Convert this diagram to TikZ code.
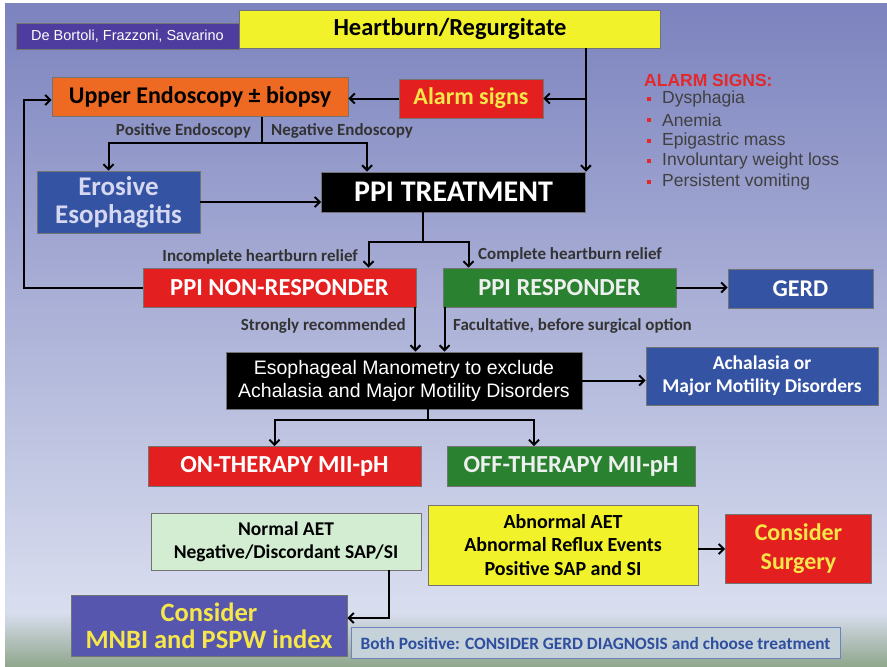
\documentclass[tikz,border=0pt]{standalone}
\usepackage{fontspec}
\setmainfont{Carlito}
\newfontfamily\arial{Liberation Sans}
\usetikzlibrary{arrows.meta}
\definecolor{bgtop}{HTML}{7C83BE}
\definecolor{bgmid}{HTML}{B0B7DB}
\definecolor{bglow}{HTML}{D9DEEF}
\definecolor{bggreen}{HTML}{8FA68C}
\definecolor{boxyellow}{HTML}{F2F22A}
\definecolor{boxorange}{HTML}{EE6A23}
\definecolor{boxred}{HTML}{E3201F}
\definecolor{boxgreen}{HTML}{2A8231}
\definecolor{boxblue}{HTML}{3553A3}
\definecolor{boxpurple}{HTML}{4E3C9E}
\definecolor{boxmnbi}{HTML}{5656AE}
\definecolor{boxpale}{HTML}{D3EDD3}
\definecolor{txtyellow}{HTML}{F5E64A}
\definecolor{txtwhite}{HTML}{EEF0F0}
\definecolor{bothfill}{HTML}{C6D2DA}
\definecolor{bothblue}{HTML}{2E4E9E}
\definecolor{alarmred}{HTML}{E2282A}
\newcommand\fs[2]{\fontsize{#1}{#2}\selectfont}
\tikzset{
 box/.style={draw=black!55,line width=.8pt,inner sep=0pt,align=center},
 arr/.style={line width=2pt,-{Straight Barb[length=5pt,width=10pt]}},
 lnk/.style={line width=2pt},
 lbl/.style={font=\bfseries\fs{17}{19},inner sep=0pt,text=black!80},
}
\begin{document}
\begin{tikzpicture}[x=1pt,y=-1pt]
\useasboundingbox (0,0) rectangle (887,667);
\shade[top color=bgtop,middle color=bgmid,bottom color=bglow] (5,3) rectangle (887,612);
\shade[top color=bglow,bottom color=bggreen] (5,612) rectangle (887,667);
% boxes
\node at(127.5,36)[box,fill=boxpurple,minimum width=223pt,minimum height=26pt,font=\arial\fs{14.5}{16},text=white](author){De Bortoli, Frazzoni, Savarino};
\node at(450,29)[box,fill=boxyellow,minimum width=421pt,minimum height=38pt,font=\bfseries\fs{24.5}{26}](heartburn){Heartburn/Regurgitate};
\node at(200,97)[box,fill=boxorange,minimum width=296pt,minimum height=39pt,font=\bfseries\fs{24}{26}](endo){Upper Endoscopy ± biopsy};
\node at(471,98.5)[box,fill=boxred,minimum width=144pt,minimum height=39pt,font=\bfseries\fs{24}{26},text=txtyellow](alarm){Alarm signs};
\node at(118.5,202)[box,fill=boxblue,minimum width=163pt,minimum height=62pt,font=\bfseries\fs{27}{28},text=txtwhite!90!blue](erosive){Erosive\\Esophagitis};
\node at(453.5,192)[box,fill=black,minimum width=264pt,minimum height=40pt,font=\bfseries\fs{30}{32},text=white](ppi){PPI TREATMENT};
\node at(279.5,287.5)[box,fill=boxred,minimum width=273pt,minimum height=39pt,font=\bfseries\fs{24.5}{26},text=white](nonresp){PPI NON-RESPONDER};
\node at(559.5,287.5)[box,fill=boxgreen,minimum width=233pt,minimum height=39pt,font=\bfseries\fs{24.5}{26},text=txtwhite](resp){PPI RESPONDER};
\node at(800.5,288.5)[box,fill=boxblue,minimum width=145pt,minimum height=39pt,font=\bfseries\fs{24}{26},text=white](gerd){GERD};
\node at(404,380.5)[box,fill=black,minimum width=356pt,minimum height=57pt,font=\arial\fs{19.5}{23},text=white](mano){Esophageal Manometry to exclude\\Achalasia and Major Motility Disorders};
\node at(762,376)[box,fill=boxblue,minimum width=232pt,minimum height=58pt,font=\bfseries\fs{19.5}{23},text=white](achal){Achalasia or\\Major Motility Disorders};
\node at(284.5,466.5)[box,fill=boxred,minimum width=273pt,minimum height=40pt,font=\bfseries\fs{24.5}{26},text=white](onmii){ON-THERAPY MII-pH};
\node at(571,466.5)[box,fill=boxgreen,minimum width=248pt,minimum height=40pt,font=\bfseries\fs{24.5}{26},text=txtwhite](offmii){OFF-THERAPY MII-pH};
\node at(286,541.5)[box,fill=boxpale,minimum width=270pt,minimum height=57pt,font=\bfseries\fs{19.5}{23}](normal){Normal AET\\Negative/Discordant SAP/SI};
\node at(563,545)[box,fill=boxyellow,minimum width=270pt,minimum height=80pt,font=\bfseries\fs{20}{23.5}](abnormal){Abnormal AET\\Abnormal Reflux Events\\Positive SAP and SI};
\node at(798.5,549)[box,fill=boxred,minimum width=146pt,minimum height=69pt,font=\bfseries\fs{24}{29},text=txtyellow](surgery){Consider\\Surgery};
\node at(209,625.5)[box,fill=boxmnbi,minimum width=276pt,minimum height=61pt,font=\bfseries\fs{26.5}{27},text=txtyellow](mnbi){Consider\\MNBI and PSPW index};
\node at(595.5,643)[box,draw=bothblue!70,fill=bothfill,minimum width=489pt,minimum height=31pt,font=\bfseries\fs{17.3}{19},text=bothblue](bothpos){Both Positive: CONSIDER GERD DIAGNOSIS and choose treatment};
% alarm signs list
\node at(644,80)[anchor=west,inner sep=0pt,font=\arial\bfseries\fs{17.5}{19},text=alarmred](alarmhead){ALARM SIGNS:};
\foreach \s[count=\i from 0] in {Dysphagia,Anemia,Epigastric mass,Involuntary weight loss,Persistent vomiting}
\node at(662,{99+20.8*\i})[anchor=west,inner sep=0pt,font=\arial\fs{17.5}{19},text=black!75](sign\i){\s}
    node at(649,{99+20.8*\i})[fill=alarmred,minimum size=4pt,inner sep=0pt](dot\i){};
% labels
\node at(251,131)[lbl,anchor=east](posendo){Positive Endoscopy};
\node at(271,131)[lbl,anchor=west](negendo){Negative Endoscopy};
\node at(358,257)[lbl,anchor=east](incomp){Incomplete heartburn relief};
\node at(478,255)[lbl,anchor=west](comp){Complete heartburn relief};
\node at(406,326)[lbl,anchor=east](strong){Strongly recommended};
\node at(453,326)[lbl,anchor=west](facult){Facultative, before surgical option};
% connectors
\coordinate (esplit) at (262,143);
\coordinate (psplit) at (423,242);
\coordinate (msplit) at (428,420);
\coordinate (nbend) at (389,618);
\draw[arr] (heartburn.south -| ppi.north east) -- (ppi.north east);
\draw[arr] (alarm.east -| ppi.north east) -- (alarm.east);
\draw[arr] (alarm.west) -- (endo.east |- alarm.west);
\draw[lnk] (endo.south -| esplit) -- (esplit);
\draw[arr] (esplit) -| ([xshift=-10pt]erosive.north);
\draw[arr] (esplit) -| ([xshift=46pt]ppi.north west);
\draw[arr] (erosive.east) -- (ppi.west |- erosive.east);
\draw[lnk] (ppi.south -| psplit) -- (psplit);
\draw[arr] (psplit) -| ([xshift=89pt]nonresp.north);
\draw[arr] (psplit) -| ([xshift=-91pt]resp.north);
\draw[arr] (nonresp.west) -- ++(-119,0) |- ([yshift=-3pt]endo.west);
\draw[arr] (resp.east) -- (gerd.west |- resp.east);
\draw[arr] ([xshift=-1pt]nonresp.south east) -- ([xshift=-1pt]nonresp.south east |- mano.north);
\draw[arr] ([xshift=2pt]resp.south west) -- ([xshift=2pt]resp.south west |- mano.north);
\draw[arr] (mano.east) -- (achal.west |- mano.east);
\draw[lnk] (mano.south -| msplit) -- (msplit);
\draw[arr] (msplit) -| ([xshift=-10pt]onmii.north);
\draw[arr] (msplit) -| ([xshift=-37pt]offmii.north);
\draw[arr] (abnormal.east |- surgery.west) -- (surgery.west);
\draw[arr] (normal.south -| nbend) -- (nbend) -- (mnbi.east |- nbend);
\end{tikzpicture}
\end{document}
